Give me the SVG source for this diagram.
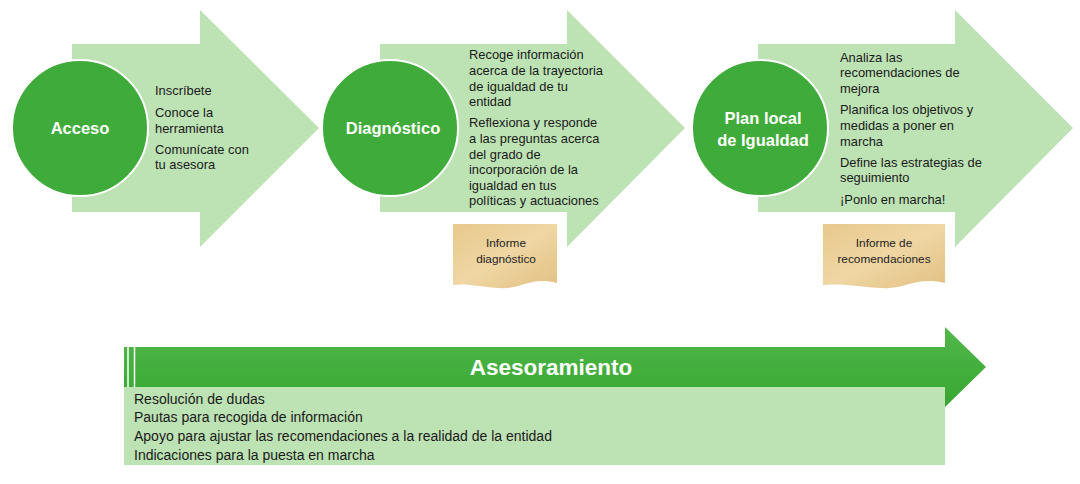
<svg xmlns="http://www.w3.org/2000/svg" width="1080" height="484" viewBox="0 0 1080 484">
<defs>
<style>
.arrow{fill:#bde2b4}
.circ{fill:#3fab3a;stroke:#ffffff;stroke-width:2}
.ct{font-family:"Liberation Sans",Arial,sans-serif;font-weight:bold;font-size:16.5px;fill:#ffffff;text-anchor:middle}
.bt{font-family:"Liberation Sans",Arial,sans-serif;font-size:12.9px;fill:#1a1a1a}
.pt{font-family:"Liberation Sans",Arial,sans-serif;font-size:11.8px;fill:#222222;text-anchor:middle}
.lt{font-family:"Liberation Sans",Arial,sans-serif;font-size:14px;fill:#1a1a1a}
.paper{fill:url(#pap)}
</style>
<linearGradient id="pap" x1="0" y1="0" x2="1" y2="1">
<stop offset="0" stop-color="#e8c98e"/>
<stop offset="0.5" stop-color="#efd6a3"/>
<stop offset="1" stop-color="#e2c083"/>
</linearGradient>
<linearGradient id="band" x1="0" y1="0" x2="0" y2="1">
<stop offset="0" stop-color="#52b84c"/>
<stop offset="1" stop-color="#36a62f"/>
</linearGradient>
</defs>

<g id="node-acceso">
<polygon class="arrow" points="72,44 200,44 200,10 319,128 200,247 200,212 72,212"/>
<circle class="circ" cx="80" cy="128" r="68"/>
<text class="ct" x="80" y="134">Acceso</text>
<text class="bt" x="155" y="95">Inscríbete</text>
<text class="bt" x="155" y="117">Conoce la</text>
<text class="bt" x="155" y="133">herramienta</text>
<text class="bt" x="155" y="154">Comunícate con</text>
<text class="bt" x="155" y="169">tu asesora</text>
</g>

<g id="node-diagnostico">
<polygon class="arrow" points="380,44 567,44 567,10 685,128 567,247 567,212 380,212"/>
<circle class="circ" cx="390" cy="128" r="68"/>
<text class="ct" x="393" y="134">Diagnóstico</text>
<text class="bt" x="469" y="59">Recoge información</text>
<text class="bt" x="469" y="75">acerca de la trayectoria</text>
<text class="bt" x="469" y="91">de igualdad de tu</text>
<text class="bt" x="469" y="106">entidad</text>
<text class="bt" x="469" y="127">Reflexiona y responde</text>
<text class="bt" x="469" y="143">a las preguntas acerca</text>
<text class="bt" x="469" y="159">del grado de</text>
<text class="bt" x="469" y="174">incorporación de la</text>
<text class="bt" x="469" y="190">igualdad en tus</text>
<text class="bt" x="469" y="205">políticas y actuaciones</text>
</g>

<g id="node-informe-diagnostico">
<path class="paper" d="M453,224 H557 V283 C530,276 520,290 500,288 C480,287 468,283 453,285 Z"/>
<text class="pt" x="506" y="247">Informe</text>
<text class="pt" x="506" y="263">diagnóstico</text>
</g>

<g id="node-plan">
<polygon class="arrow" points="758,44 955,44 955,10 1073,128 955,247 955,212 758,212"/>
<circle class="circ" cx="760" cy="128" r="68"/>
<text class="ct" x="763" y="124">Plan local</text>
<text class="ct" x="763" y="146">de Igualdad</text>
<text class="bt" x="840" y="62">Analiza las</text>
<text class="bt" x="840" y="77">recomendaciones de</text>
<text class="bt" x="840" y="93">mejora</text>
<text class="bt" x="840" y="114">Planifica los objetivos y</text>
<text class="bt" x="840" y="130">medidas a poner en</text>
<text class="bt" x="840" y="146">marcha</text>
<text class="bt" x="840" y="167">Define las estrategias de</text>
<text class="bt" x="840" y="182">seguimiento</text>
<text class="bt" x="840" y="204">¡Ponlo en marcha!</text>
</g>

<g id="node-informe-recomendaciones">
<path class="paper" d="M823,224 H945 V283 C915,276 905,290 882,288 C860,287 843,283 823,285 Z"/>
<text class="pt" x="884" y="247">Informe de</text>
<text class="pt" x="884" y="263">recomendaciones</text>
</g>

<g id="node-asesoramiento">
<rect x="124" y="387" width="821" height="78" fill="#bde2b4"/>
<polygon fill="url(#band)" points="124,347 945,347 945,327 986,367 945,407 945,387 124,387"/>
<line x1="128" y1="347" x2="128" y2="387" stroke="#ffffff" stroke-width="1.5"/>
<line x1="134.5" y1="347" x2="134.5" y2="387" stroke="#ffffff" stroke-width="1.5"/>
<text class="ct" x="551" y="375" style="font-size:22.5px">Asesoramiento</text>
<text class="lt" x="134" y="404">Resolución de dudas</text>
<text class="lt" x="134" y="422">Pautas para recogida de información</text>
<text class="lt" x="134" y="441">Apoyo para ajustar las recomendaciones a la realidad de la entidad</text>
<text class="lt" x="134" y="460">Indicaciones para la puesta en marcha</text>
</g>

<g id="connectors"></g>
</svg>
